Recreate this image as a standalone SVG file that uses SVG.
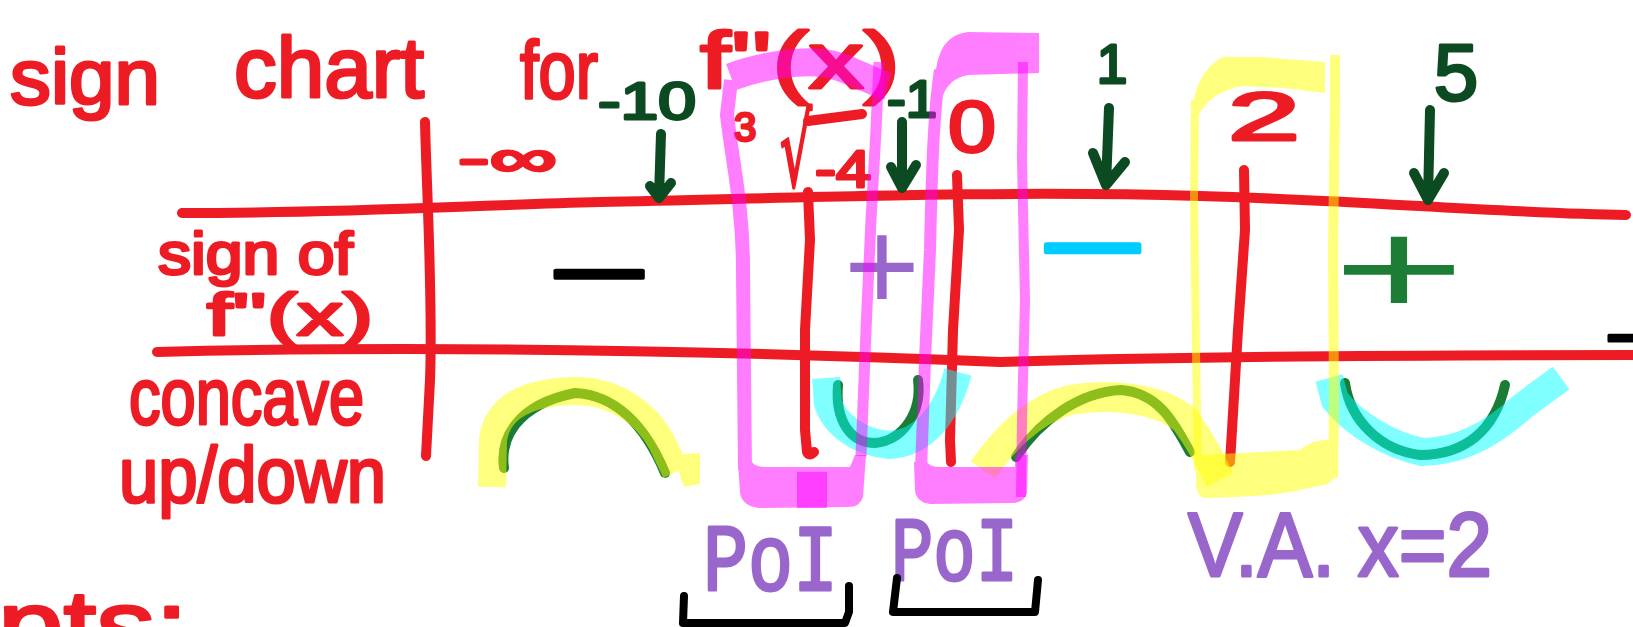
<svg xmlns="http://www.w3.org/2000/svg" width="1633" height="627" viewBox="0 0 1633 627">
<style>
.red{fill:none;stroke:#ed1c24;stroke-width:10;stroke-linecap:round;stroke-linejoin:round}
.arr{fill:none;stroke:#0c4a22;stroke-width:10;stroke-linecap:round;stroke-linejoin:round}
.crv{fill:none;stroke:#1b7c36;stroke-width:10;stroke-linecap:round;stroke-linejoin:round}
.brk{fill:none;stroke:#000;stroke-width:8;stroke-linecap:round;stroke-linejoin:round}
.hy{fill:none;stroke:#ffff00;opacity:.5;stroke-width:30}
.hc{fill:none;stroke:#00ffff;opacity:.5;stroke-width:28}
text{font-family:"Liberation Sans","DejaVu Sans",sans-serif;stroke-linejoin:round;stroke-linecap:round}
.tr{fill:#ed1c24;stroke:#ed1c24;stroke-width:3}
.tg{fill:#0c4a22;stroke:#0c4a22;stroke-width:3}
.tp{fill:#9966cc;stroke:#9966cc;stroke-width:3}
</style>
<rect width="1633" height="627" fill="#fff"/>

<g id="title">
<text class="tr" x="10" y="104" font-size="78" textLength="150" lengthAdjust="spacingAndGlyphs">sign</text>
<text class="tr" x="234" y="97" font-size="85" textLength="190" lengthAdjust="spacingAndGlyphs">chart</text>
<text class="tr" x="520" y="98" font-size="82" textLength="78" lengthAdjust="spacingAndGlyphs">for</text>
<text class="tr" x="700" y="88" font-size="80" textLength="200" lengthAdjust="spacingAndGlyphs">f''(x)</text>
</g>

<g id="grid">
<path class="red" stroke-width="11" d="M182,213 C350,213 450,206 600,202 C800,198 1000,190 1200,196 C1350,200 1500,213 1626,215"/>
<path class="red" stroke-width="11" d="M157,352 C400,346 700,350 1000,362 C1200,356 1400,355 1633,355"/>
<path class="red" d="M425,122 C427,200 433,300 430,380 L426,456"/>
<path class="red" d="M808,192 L810,240 L805,330 L805,430 L807,452 Q809,457 814,452"/>
<path class="red" d="M957,175 L959,230 L953,330 L950,440 L951,462"/>
<path class="red" d="M1244,170 L1245,230 L1238,330 L1232,430 L1230,462"/>
</g>

<g id="x-values">
<text class="tr" x="458" y="176" font-size="52" textLength="99" lengthAdjust="spacingAndGlyphs">-∞</text>
<text class="tg" x="598" y="119" font-size="52" textLength="98" lengthAdjust="spacingAndGlyphs">-10</text>
<text class="tr" x="734" y="141" font-size="40">3</text>
<text class="tr" x="780" y="186" font-size="100" textLength="32" lengthAdjust="spacingAndGlyphs" style="font-family:'DejaVu Sans',sans-serif">√</text>
<path class="red" d="M808,121 L862,114"/>
<text class="tr" x="815" y="187" font-size="52" textLength="56" lengthAdjust="spacingAndGlyphs">-4</text>
<text class="tg" x="887" y="117" font-size="52" textLength="50" lengthAdjust="spacingAndGlyphs">-1</text>
<text class="tr" x="948" y="152" font-size="72" textLength="48" lengthAdjust="spacingAndGlyphs">0</text>
<text class="tg" x="1112" y="83" font-size="55" text-anchor="middle">1</text>
<text class="tr" x="1228" y="140" font-size="68" textLength="72" lengthAdjust="spacingAndGlyphs">2</text>
<text class="tg" x="1456" y="100" font-size="80" text-anchor="middle">5</text>
</g>

<g id="arrows">
<path class="arr" d="M661,134 L659,196 M650,186 L659,198 L671,183"/>
<path class="arr" d="M902,122 L902,188 M891,167 L902,188 L916,165"/>
<path class="arr" d="M1109,108 L1106,185 M1093,153 L1106,185 L1125,162"/>
<path class="arr" d="M1430,110 L1428,200 M1414,173 L1428,200 L1444,173"/>
</g>

<g id="row-labels">
<text class="tr" x="158" y="274" font-size="60" textLength="195" lengthAdjust="spacingAndGlyphs">sign of</text>
<text class="tr" x="207" y="335" font-size="60" textLength="166" lengthAdjust="spacingAndGlyphs">f''(x)</text>
<text class="tr" x="129" y="424" font-size="80" textLength="235" lengthAdjust="spacingAndGlyphs">concave</text>
<text class="tr" x="119" y="502" font-size="78" textLength="267" lengthAdjust="spacingAndGlyphs">up/down</text>
<text class="tr" x="-2" y="660" font-size="100" textLength="190" lengthAdjust="spacingAndGlyphs">pts:</text>
</g>

<g id="signs">
<text x="547" y="311" font-size="110" textLength="104" lengthAdjust="spacingAndGlyphs" fill="#000" stroke="#000" stroke-width="3">−</text>
<text x="882" y="310" font-size="130" text-anchor="middle" fill="#9966cc">+</text>
<text x="1038" y="285" font-size="110" textLength="109" lengthAdjust="spacingAndGlyphs" fill="#00ccff" stroke="#00ccff" stroke-width="4">−</text>
<text x="1333" y="315" font-size="135" textLength="132" lengthAdjust="spacingAndGlyphs" fill="#1e7d35">+</text>
<text x="1605" y="365" font-size="80" fill="#000" stroke="#000" stroke-width="3">−</text>
</g>

<g id="curves">
<path class="crv" d="M504,468 C500,440 515,405 575,393 C615,395 645,425 665,473"/>
<path class="crv" d="M838,385 C835,420 850,443 875,443 C905,440 922,410 918,380"/>
<path class="crv" d="M1016,457 C1040,420 1080,392 1121,390 C1160,393 1175,425 1190,452"/>
<path class="crv" d="M1345,383 C1350,420 1380,450 1420,455 C1465,455 1495,430 1505,385"/>
</g>

<g id="highlights">
<g opacity=".5">
<path d="M492,487 L493,440 C497,408 525,392 575,391 C615,391 646,413 662,443 L676,472" stroke="#ffff00" stroke-width="28" fill="none"/>
<path d="M673,455 L700,453 L700,484 L684,487 Z" fill="#ffff00"/>
</g>
<path class="hy" d="M983,470 C1000,445 1030,410 1070,400 C1110,393 1160,398 1185,420 C1200,440 1210,460 1220,480"/>
<path class="hc" stroke-width="26" d="M826,378 L828,403 C835,425 860,443 890,445 C920,443 945,420 958,372"/>
<path class="hc" stroke-width="30" d="M1329,378 L1335,400 C1355,425 1390,445 1422,452 C1460,452 1495,432 1523,406 L1561,378"/>

<g id="poi-box-1">
<g opacity=".5">
<path d="M731,77 C760,66 800,60 823,63 C848,66 862,79 888,86" stroke="#ff00ff" stroke-width="28" fill="none"/>
<path d="M731,80 L727,115 C732,160 743,205 743,270 L745,470" stroke="#ff00ff" stroke-width="14" fill="none"/>
<path d="M738,462 L752,462 Q755,467 765,467 L850,467 L855,455 L866,455 L863,497 Q860,507 848,507 L758,508 Q741,505 740,492 Z" fill="#ff00ff"/>
</g>
<path d="M879,62 L876,130 L871,220 L866,330 L861,456" stroke="#ff00ff" stroke-width="11" fill="none" opacity=".5"/>
<rect x="797" y="472" width="30" height="36" fill="#ff00ff" opacity=".5"/>
</g>

<g id="poi-box-2">
<g opacity=".5">
<path d="M935,80 Q937,35 968,32 L1039,33 L1039,73 L968,75 Q950,78 943,95 Z" fill="#ff00ff"/>
<path d="M940,70 C934,110 932,160 930,250 L925,360 L921,470" stroke="#ff00ff" stroke-width="12" fill="none"/>
<path d="M914,462 L927,462 Q930,467 940,467 L1015,467 L1015,455 L1028,455 L1027,493 Q1024,503 1012,503 L930,504 Q916,502 915,490 Z" fill="#ff00ff"/>
</g>
<path d="M1023,62 L1022,160 L1025,300 L1022,420 L1021,497" stroke="#ff00ff" stroke-width="10" fill="none" opacity=".5"/>
</g>

<g id="va-box" opacity=".5">
<path d="M1192,120 Q1192,75 1222,57 L1262,57 L1325,62 L1325,93 L1283,88 L1242,86 Q1210,92 1199,115 Z" fill="#ffff00"/>
<path d="M1195,100 L1194,200 L1196,350 L1198,470" stroke="#ffff00" stroke-width="8" fill="none"/>
<path d="M1196,455 L1200,455 L1300,450 Q1312,440 1325,440 L1334,440 L1334,478 Q1330,485 1318,486 L1300,490 Q1270,497 1205,498 Q1197,497 1196,485 Z" fill="#ffff00"/>
<path d="M1335,55 L1335,100 L1333,250 L1334,400 L1333,478" stroke="#ffff00" stroke-width="10" fill="none"/>
</g>
</g>

<g id="annotations">
<text class="tp" x="703" y="590" font-size="95" textLength="135" lengthAdjust="spacingAndGlyphs" style="font-family:'Liberation Mono',monospace">PoI</text>
<text class="tp" x="891" y="580" font-size="90" textLength="127" lengthAdjust="spacingAndGlyphs" style="font-family:'Liberation Mono',monospace">PoI</text>
<text class="tp" x="1188" y="576" font-size="90" textLength="304" lengthAdjust="spacingAndGlyphs">V.A. x=2</text>
<path class="brk" d="M684,596 L683,623 L845,623 L849,612 L849,586"/>
<path class="brk" d="M897,578 L893,612 L1035,612 L1038,580"/>
</g>
</svg>
